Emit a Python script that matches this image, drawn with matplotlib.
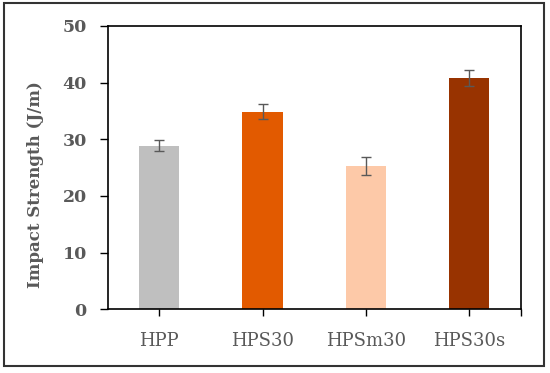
import matplotlib.pyplot as plt
from matplotlib.patches import Rectangle

categories = ['HPP', 'HPS30', 'HPSm30', 'HPS30s']
values = [28.9, 34.9, 25.3, 40.8]
errors = [0.95, 1.4, 1.6, 1.45]
colors = ['#BFBFBF', '#E25A00', '#FDC9A8', '#983300']

plt.rcParams['font.family'] = ['DejaVu Serif']

fig = plt.figure(figsize=(5.5, 3.73), dpi=100)
ax = fig.add_axes([107.7 / 550, 1 - 309.3 / 373, 413 / 550, 283.3 / 373])

x = range(len(categories))
ax.bar(x, values, width=0.39, color=colors, zorder=2)
ax.errorbar(x, values, yerr=errors, fmt='none', ecolor='#595959',
            elinewidth=1, capsize=3.6, capthick=1, zorder=3)

ax.set_xlim(-0.5, 3.5)
ax.set_ylim(0, 50)
ax.set_yticks([0, 10, 20, 30, 40, 50])
ax.set_xticks(list(x) + [3.5])
ax.set_xticklabels(categories + [''])
ax.tick_params(axis='y', direction='out', length=6, width=1, colors='black',
               labelcolor='#595959', labelsize=12.5, pad=9)
ax.tick_params(axis='x', direction='out', length=5, width=1, colors='black',
               labelcolor='#595959', labelsize=13, pad=11)
for lab in ax.get_yticklabels():
    lab.set_fontweight('bold')
for s in ax.spines.values():
    s.set_linewidth(1.2)

ax.set_ylabel('Impact Strength (J/m)', fontsize=12, fontweight='bold',
              color='#595959')
ax.yaxis.set_label_coords(-(107.7 - 44) / 413, 0.44)

fig.patches.append(Rectangle((4 / 550, 1 - 366 / 373), 540 / 550, 363 / 373,
                             transform=fig.transFigure, fill=False,
                             edgecolor='#333333', linewidth=1.5))

fig.savefig('out.png', dpi=100)
